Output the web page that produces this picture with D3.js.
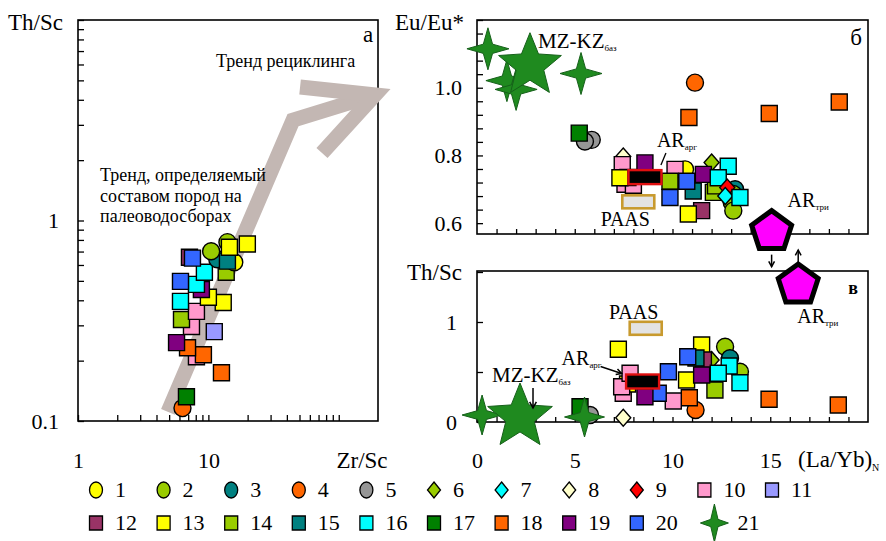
<!DOCTYPE html>
<html>
<head>
<meta charset="utf-8">
<script src="https://cdn.jsdelivr.net/npm/d3@7"></script>
<style>
  #chart text, #chart tspan { font-family: 'Liberation Serif' !important; }
</style>
</head>
<body style="margin:0;background:#fff">
<svg id="chart" width="886" height="541" style="display:block;font-family:'Liberation Serif'"></svg>
<script>
// ---- sample groups (legend 1..21) ----
const groupIds = d3.range(1, 22);
const groupShape = ["circle","circle","circle","circle","circle",
  "diamond","diamond","diamond","diamond",
  "square","square","square","square","square","square","square","square","square","square","square",
  "star4"];
const groupFill = ["#ffff00","#99cc00","#008080","#ff6600","#969696",
  "#99cc00","#00ffff","#ffffcc","#ff0000",
  "#ff99cc","#9999ff","#993366","#ffff00","#99cc00","#008080","#00ffff","#008000","#ff6600","#800080","#3366ff",
  "#1f8a1f"];

// ---- panel а: Zr/Sc vs Th/Sc (log-log) ----
const groupA = [4,17,18,10,18,18,19,11,10,14,10,16,13,13,19,16,20,16,14,1,3,15,12,20,2,2,13,13];
const zrScA  = [6.33,6.79,12.6,8.10,9.16,6.92,5.70,11.1,7.42,6.22,8.10,6.11,13.0,10.0,8.84,8.10,6.11,9.32,13.7,15.8,11.7,14.0,7.16,7.55,10.5,14.0,14.5,19.9];
const thScA  = [0.116,0.132,0.174,0.209,0.214,0.232,0.246,0.279,0.296,0.321,0.352,0.395,0.390,0.414,0.453,0.480,0.497,0.552,0.552,0.619,0.641,0.627,0.656,0.649,0.703,0.780,0.736,0.763];

// ---- panel б: (La/Yb)N vs Eu/Eu* ----
const groupB = [4,18,18,18,5,5,17,8,6,10,10,10,13,13,19,1,10,14,20,15,20,12,13,3,2,2,2,14,14,19,16,16,9,7,16,21,21,21,21];
const laYbB  = [11.15,10.84,14.95,18.53,5.87,5.52,5.23,7.48,12.0,7.57,8.0,7.43,7.72,7.31,8.59,10.64,10.13,9.87,9.87,11.06,10.73,11.49,10.81,13.2,13.11,13.03,13.11,12.09,12.2,11.58,12.85,12.34,12.8,12.7,13.45,0.56,1.53,2.0,5.32];
const euB    = [1.015,0.912,0.924,0.958,0.846,0.841,0.866,0.797,0.779,0.715,0.712,0.773,0.735,0.734,0.778,0.759,0.759,0.724,0.676,0.695,0.724,0.637,0.627,0.70,0.686,0.661,0.637,0.691,0.71,0.744,0.768,0.734,0.705,0.68,0.676,1.115,1.021,0.995,1.042];

// ---- panel в: (La/Yb)N vs Th/Sc ----
const groupC = [8,5,17,18,18,4,18,10,20,19,10,13,10,10,13,20,13,2,13,3,6,12,15,20,2,14,16,16,19,16,21,21];
const laYbC  = [7.48,5.78,5.27,18.48,14.94,11.18,10.86,10.04,9.27,8.59,7.48,7.7,7.4,7.83,7.23,9.79,10.72,12.69,11.49,12.94,12.0,11.58,11.2,10.78,13.45,12.17,12.9,12.34,11.49,13.45,0.26,5.5];
const thScC  = [0.043,0.07,0.153,0.17,0.227,0.12,0.243,0.21,0.287,0.253,0.287,0.38,0.353,0.487,0.727,0.503,0.42,0.753,0.77,0.637,0.62,0.62,0.64,0.653,0.503,0.32,0.56,0.487,0.47,0.393,0.07,0.05];

// ---- reference compositions ----
const refKeys  = ["PAAS", "ARarg", "ARtri", "MZKZ"];
const refLaYbB = [8.25, 8.59, 15.07, 2.71];
const refEuB   = [0.663, 0.736, 0.575, 1.065];
const refLaYbC = [8.63, 8.47, 16.43, 2.2];
const refThScC = [0.937, 0.405, 1.37, 0.05];

// ---- trend arrow (Zr/Sc, Th/Sc) ----
const trendShaft = [[4.90, 0.111], [44.6, 3.17], [189.7, 4.23]];
const trendHead  = [[50.5, 4.63], [189.7, 4.23], [74.4, 2.17]];

// ---- tick labels ----
const tickLabelsZrSc = [1, 10];
const tickLabelsThScA = [0.1, 1];
const tickLabelsEu = [0.6, 0.8, 1.0];
const tickLabelsThScC = [0, 1];
const tickLabelsLaYb = [0, 5, 10, 15];

const svg = d3.select("#chart");

// scales
const xA = d3.scaleLog().domain([1, 200]).range([78, 378]);
const yA = d3.scaleLog().domain([0.1, 10]).range([421, 20]);
const xB = d3.scaleLinear().domain([0, 20]).range([477, 868]);
const yB = d3.scaleLinear().domain([0.568, 1.2]).range([234, 20]);
const yC = d3.scaleLinear().domain([0, 1.51]).range([422, 271]);

const inList = (list, d) => list.some(v => Math.abs(v - d) < 1e-9);

function styleAxis(g, fs) {
  g.attr("font-family", null);
  g.select(".domain").remove();
  g.selectAll(".tick line").attr("stroke", "#000").attr("stroke-width", 1.3);
  g.selectAll(".tick text").attr("font-size", fs);
}

// marker shapes
function shapePath(shape, w, h) {
  const a = w / 2, b = h / 2;
  if (shape === "circle")
    return `M${-a},0A${a},${b} 0 1,0 ${a},0A${a},${b} 0 1,0 ${-a},0Z`;
  if (shape === "square")
    return `M${-a},${-b}H${a}V${b}H${-a}Z`;
  if (shape === "diamond")
    return `M0,${-b}L${a},0L0,${b}L${-a},0Z`;
  if (shape === "star4") {
    const i = 0.11 * (a + b);
    return `M0,${-b}L${i},${-i}L${a},0L${i},${i}L0,${b}L${-i},${i}L${-a},0L${-i},${-i}Z`;
  }
  return "";
}
function star5Path(R, r) {
  const pts = d3.range(10).map(k => {
    const ang = -Math.PI / 2 + k * Math.PI / 5;
    const rad = k % 2 === 0 ? R : r;
    return [rad * Math.cos(ang), rad * Math.sin(ang)];
  });
  return "M" + pts.map(p => p.join(",")).join("L") + "Z";
}
function pentagonPath(R) {
  const pts = d3.range(5).map(k => {
    const ang = -Math.PI / 2 + k * 2 * Math.PI / 5;
    return [R * Math.cos(ang), R * Math.sin(ang)];
  });
  return "M" + pts.map(p => p.join(",")).join("L") + "Z";
}
const markerSize = { circle: [17, 17], square: [16, 16], diamond: [15, 17], star4: [42, 42] };

function drawPoints(g, groups, xs, ys, sx, sy, starSize) {
  groups.forEach((grp, i) => {
    const shape = groupShape[grp - 1];
    let [w, h] = markerSize[shape];
    if (shape === "star4" && starSize) { w = starSize; h = starSize; }
    g.append("path")
      .attr("d", shapePath(shape, w, h))
      .attr("transform", `translate(${sx(xs[i])},${sy(ys[i])})`)
      .attr("fill", groupFill[grp - 1])
      .attr("stroke", shape === "star4" ? "#16601a" : "#000")
      .attr("stroke-width", shape === "star4" ? 1 : 1.4);
  });
}

function arrowLine(g, x1, y1, x2, y2, head) {
  g.append("line").attr("x1", x1).attr("y1", y1).attr("x2", x2).attr("y2", y2)
    .attr("stroke", "#000").attr("stroke-width", 1.5);
  const ang = Math.atan2(y2 - y1, x2 - x1);
  const hs = head || 6;
  const p1 = [x2 - hs * Math.cos(ang - 0.5), y2 - hs * Math.sin(ang - 0.5)];
  const p2 = [x2 - hs * Math.cos(ang + 0.5), y2 - hs * Math.sin(ang + 0.5)];
  g.append("path").attr("d", `M${p1}L${x2},${y2}L${p2}`)
    .attr("fill", "none").attr("stroke", "#000").attr("stroke-width", 1.5);
}

function subLabel(g, x, y, main, sub, fs, subFs, anchor) {
  const t = g.append("text").attr("x", x).attr("y", y).attr("font-size", fs)
    .attr("text-anchor", anchor || "start");
  t.append("tspan").text(main);
  t.append("tspan").attr("font-size", subFs).attr("dy", 3).text(sub);
  return t;
}

// ================= panel а =================
const gA = svg.append("g");
gA.append("rect").attr("x", 78).attr("y", 20).attr("width", 300).attr("height", 401)
  .attr("fill", "none").attr("stroke", "#000").attr("stroke-width", 1.6);

gA.append("g").attr("transform", "translate(0,421)")
  .call(d3.axisBottom(xA).tickValues(xA.ticks().filter(d => d <= 100))
    .tickFormat(d => inList(tickLabelsZrSc, d) ? d3.format("~g")(d) : "")
    .tickSizeInner(-6).tickSizeOuter(0).tickPadding(31))
  .call(g => styleAxis(g, 22));
gA.append("g").attr("transform", "translate(78,0)")
  .call(d3.axisLeft(yA).tickValues(yA.ticks())
    .tickFormat(d => inList(tickLabelsThScA, d) ? d3.format("~g")(d) : "")
    .tickSizeInner(-6).tickSizeOuter(0).tickPadding(19))
  .call(g => styleAxis(g, 22));

// trend arrow
const trendLine = d3.line().x(d => xA(d[0])).y(d => yA(d[1]));
gA.append("path").attr("d", trendLine(trendShaft)).attr("fill", "none")
  .attr("stroke", "#c3b7b3").attr("stroke-width", 15).attr("stroke-linejoin", "miter");
gA.append("path").attr("d", trendLine(trendHead)).attr("fill", "none")
  .attr("stroke", "#c3b7b3").attr("stroke-width", 15).attr("stroke-linejoin", "miter")
  .attr("stroke-miterlimit", 6);

drawPoints(gA, groupA, zrScA, thScA, xA, yA);

gA.append("text").attr("x", 8).attr("y", 30).attr("font-size", 23).text("Th/Sc");
gA.append("text").attr("x", 362).attr("y", 468).attr("font-size", 23).attr("text-anchor", "middle").text("Zr/Sc");
gA.append("text").attr("x", 368).attr("y", 42).attr("font-size", 23).attr("text-anchor", "middle").text("а");
gA.append("text").attr("x", 216).attr("y", 67).attr("font-size", 18).text("Тренд рециклинга");
["Тренд, определяемый", "составом пород на", "палеоводосборах"].forEach((s, i) =>
  gA.append("text").attr("x", 100).attr("y", 181 + i * 20.5).attr("font-size", 18).text(s));

// ================= panel б =================
const gB = svg.append("g");
gB.append("rect").attr("x", 477).attr("y", 20).attr("width", 391).attr("height", 214)
  .attr("fill", "none").attr("stroke", "#000").attr("stroke-width", 1.6);
gB.append("g").attr("transform", "translate(0,234)")
  .call(d3.axisBottom(xB).tickValues(d3.range(1, 20)).tickFormat("")
    .tickSizeInner(-5).tickSizeOuter(0))
  .call(g => styleAxis(g, 22));
gB.append("g").attr("transform", "translate(477,0)")
  .call(d3.axisLeft(yB).tickValues(d3.range(0, 16).map(k => 0.6 + k * 0.04))
    .tickFormat(d => inList(tickLabelsEu, d) ? d3.format(".1f")(d) : "")
    .tickSizeInner(-6).tickSizeOuter(0).tickPadding(15))
  .call(g => styleAxis(g, 22));

drawPoints(gB, groupB, laYbB, euB, xB, yB, 42);

// ================= panel в =================
const gC = svg.append("g");
gC.append("rect").attr("x", 477).attr("y", 271).attr("width", 391).attr("height", 151)
  .attr("fill", "none").attr("stroke", "#000").attr("stroke-width", 1.6);
gC.append("g").attr("transform", "translate(0,422)")
  .call(d3.axisBottom(xB).tickValues(d3.range(0, 20))
    .tickFormat(d => inList(tickLabelsLaYb, d) ? d3.format("d")(d) : "")
    .tickSizeInner(-5).tickSizeOuter(0).tickPadding(30))
  .call(g => styleAxis(g, 22));
gC.append("g").attr("transform", "translate(477,0)")
  .call(d3.axisLeft(yC).tickValues([0, 0.5, 1, 1.5])
    .tickFormat(d => inList(tickLabelsThScC, d) ? d3.format("d")(d) : "")
    .tickSizeInner(-6).tickSizeOuter(0).tickPadding(20))
  .call(g => styleAxis(g, 22));

drawPoints(gC, groupC, laYbC, thScC, xB, yC, 40);

// reference marks (both panels)
function drawRefs(g, xs, ys, sx, sy, starR) {
  const P = i => [sx(xs[i]), sy(ys[i])];
  // PAAS
  let [px, py] = P(0);
  g.append("rect").attr("x", px - 16).attr("y", py - 6.5).attr("width", 32).attr("height", 13)
    .attr("fill", "#e3e3e3").attr("stroke", "#c89a2e").attr("stroke-width", 2.6);
  // AR арг
  [px, py] = P(1);
  g.append("rect").attr("x", px - 16.5).attr("y", py - 7).attr("width", 33).attr("height", 14)
    .attr("fill", "#000").attr("stroke", "#e01010").attr("stroke-width", 2.4);
  // AR три
  [px, py] = P(2);
  g.append("path").attr("d", pentagonPath(21)).attr("transform", `translate(${px},${py})`)
    .attr("fill", "#ff00ff").attr("stroke", "#000").attr("stroke-width", 5).attr("stroke-linejoin", "miter");
  // MZ-KZ баз
  [px, py] = P(3);
  g.append("path").attr("d", star5Path(starR, starR * 0.44)).attr("transform", `translate(${px},${py})`)
    .attr("fill", "#1f8a1f").attr("stroke", "#16601a").attr("stroke-width", 1);
}
drawRefs(gB, refLaYbB, refEuB, xB, yB, 33);
drawRefs(gC, refLaYbC, refThScC, xB, yC, 34);

// labels of reference marks — panel б
{
  const px = i => xB(refLaYbB[i]), py = i => yB(refEuB[i]);
  subLabel(gB, px(3) + 8, py(3) - 18, "MZ-KZ", "баз", 21, 9);
  subLabel(gB, px(1) + 12, py(1) - 30, "AR", "арг", 20, 9);
  gB.append("line").attr("x1", px(1) + 21).attr("y1", py(1) - 24).attr("x2", px(1) + 16).attr("y2", py(1) - 12)
    .attr("stroke", "#000").attr("stroke-width", 1.3);
  gB.append("text").attr("x", px(0) - 13).attr("y", py(0) + 24).attr("font-size", 20)
    .attr("text-anchor", "middle").text("PAAS");
  subLabel(gB, px(2) + 16, py(2) - 25, "AR", "три", 20, 9);
  arrowLine(gB, px(2), py(2) + 23, px(2), py(2) + 35, 6);
  gB.append("text").attr("x", 862).attr("y", 45).attr("font-size", 23).attr("text-anchor", "end").text("б");
  gB.append("text").attr("x", 464).attr("y", 30).attr("font-size", 23).attr("text-anchor", "end").text("Eu/Eu*");
}
// labels of reference marks — panel в
{
  const px = i => xB(refLaYbC[i]), py = i => yC(refThScC[i]);
  gC.append("text").attr("x", px(0) - 12).attr("y", py(0) - 9).attr("font-size", 20)
    .attr("text-anchor", "middle").text("PAAS");
  subLabel(gC, px(1) - 81, py(1) - 17, "AR", "арг", 20, 9);
  arrowLine(gC, px(1) - 42, py(1) - 15, px(1) - 21, py(1) - 8, 6);
  subLabel(gC, px(3) - 28, py(3) - 35, "MZ-KZ", "баз", 21, 9);
  arrowLine(gC, px(3) + 13, py(3) - 29, px(3) + 13, py(3) - 9, 7);
  subLabel(gC, px(2) - 1, py(2) + 38, "AR", "три", 20, 9);
  arrowLine(gC, px(2), py(2) - 22, px(2), py(2) - 35, 6);
  gC.append("text").attr("x", 853).attr("y", 294).attr("font-size", 18).attr("font-weight", "bold")
    .attr("text-anchor", "middle").text("в");
  gC.append("text").attr("x", 462).attr("y", 280).attr("font-size", 23).attr("text-anchor", "end").text("Th/Sc");
  const t = gC.append("text").attr("x", 798).attr("y", 467).attr("font-size", 23);
  t.append("tspan").text("(La/Yb)");
  t.append("tspan").attr("font-size", 10).attr("dy", 4).text("N");
}

// ================= legend =================
const gL = svg.append("g");
const legendRows = [groupIds.slice(0, 11), groupIds.slice(11)];
const legendY = [490, 523];
legendRows.forEach((row, r) => {
  row.forEach((grp, k) => {
    const shape = groupShape[grp - 1];
    const cx = 96 + k * 67.6 + (shape === "star4" ? 10 : 0);
    const cy = legendY[r];
    const size = shape === "star4" ? [28, 38] : shape === "square" ? [13, 14] : [13, 16];
    gL.append("path").attr("d", shapePath(shape, size[0], size[1]))
      .attr("transform", `translate(${cx},${cy})`)
      .attr("fill", groupFill[grp - 1])
      .attr("stroke", shape === "star4" ? "#16601a" : "#000")
      .attr("stroke-width", shape === "star4" ? 1 : 1.3);
    gL.append("text").attr("x", cx + (shape === "star4" ? 23 : 19)).attr("y", cy + 7)
      .attr("font-size", 22).text(grp);
  });
});

// every label in the serif face (inline, so nothing later overrides it)
function applySerif() {
  document.querySelectorAll("#chart text, #chart tspan").forEach(el => {
    el.setAttribute("font-family", "Liberation Serif");
    el.style.setProperty("font-family", "'Liberation Serif'", "important");
    el.style.setProperty("fill", "#000");
  });
}
applySerif();
requestAnimationFrame(applySerif);
setTimeout(applySerif, 30);
</script>
</body>
</html>
